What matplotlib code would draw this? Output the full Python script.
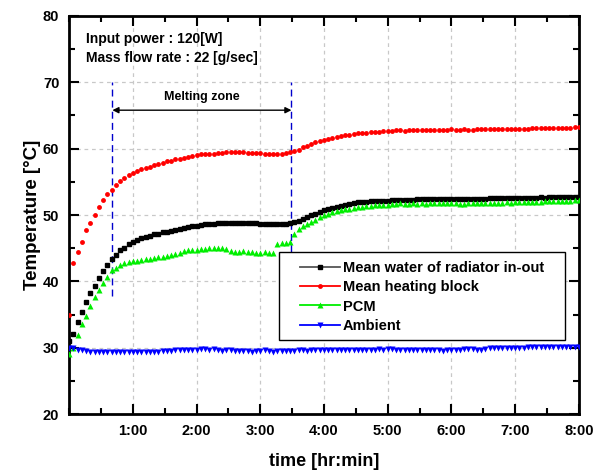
import numpy as np
import matplotlib
matplotlib.use("Agg")
import matplotlib.pyplot as plt
from matplotlib.lines import Line2D
from matplotlib.patches import Rectangle
from matplotlib.ticker import MultipleLocator, FixedLocator

plt.rcParams['font.family'] = ['Liberation Sans', 'DejaVu Sans']
plt.rcParams['font.weight'] = 'bold'

# sampling every 4 minutes, 0..8 h
time_min = np.arange(0, 481, 4)

heating_block = [
    35.0, 42.7, 44.4, 46.0, 47.7, 48.8, 50.0, 51.2, 52.2, 53.1,
    53.8, 54.5, 55.2, 55.6, 56.0, 56.3, 56.6, 56.9, 57.1, 57.3,
    57.5, 57.7, 57.9, 58.1, 58.2, 58.4, 58.5, 58.6, 58.7, 58.9,
    59.1, 59.15, 59.15, 59.2, 59.25, 59.35, 59.35, 59.45, 59.5, 59.5,
    59.45, 59.45, 59.4, 59.4, 59.4, 59.35, 59.25, 59.25, 59.25, 59.25,
    59.25, 59.35, 59.45, 59.7, 59.85, 60.2, 60.45, 60.7, 60.95, 61.1,
    61.3, 61.46, 61.56, 61.7, 61.9, 62.0, 62.1, 62.2, 62.3, 62.4,
    62.4, 62.47, 62.5, 62.56, 62.6, 62.66, 62.7, 62.77, 62.77, 62.66,
    62.87, 62.87, 62.8, 62.8, 62.87, 62.8, 62.87, 62.87, 62.87, 62.85,
    62.9, 62.85, 62.85, 62.9, 62.85, 62.85, 62.9, 62.95, 62.9, 62.9,
    62.9, 62.95, 62.95, 62.95, 63.0, 62.95, 63.0, 63.0, 63.0, 63.05,
    63.05, 63.1, 63.15, 63.15, 63.15, 63.15, 63.15, 63.15, 63.15, 63.2,
    63.2]

radiator_water = [
    31.0, 32.1, 33.8, 35.4, 36.9, 38.2, 39.3, 40.5, 41.6, 42.5,
    43.3, 43.9, 44.7, 45.1, 45.6, 45.9, 46.2, 46.5, 46.7, 46.9,
    47.1, 47.2, 47.4, 47.5, 47.65, 47.8, 47.95, 48.05, 48.2, 48.3,
    48.4, 48.5, 48.6, 48.65, 48.7, 48.75, 48.8, 48.8, 48.8, 48.8,
    48.8, 48.8, 48.8, 48.8, 48.75, 48.7, 48.7, 48.65, 48.6, 48.6,
    48.65, 48.7, 48.8, 48.9, 49.1, 49.4, 49.7, 49.95, 50.2, 50.45,
    50.7, 50.9, 51.06, 51.26, 51.4, 51.56, 51.7, 51.8, 51.9, 51.96,
    52.0, 52.06, 52.1, 52.16, 52.16, 52.16, 52.2, 52.26, 52.3, 52.3,
    52.3, 52.3, 52.37, 52.37, 52.37, 52.4, 52.37, 52.4, 52.4, 52.4,
    52.45, 52.4, 52.45, 52.4, 52.45, 52.45, 52.4, 52.45, 52.45, 52.5,
    52.5, 52.5, 52.5, 52.55, 52.5, 52.55, 52.55, 52.55, 52.6, 52.6,
    52.6, 52.65, 52.6, 52.65, 52.65, 52.65, 52.65, 52.65, 52.65, 52.65,
    52.65]

pcm = [
    29.0, 30.0, 31.9, 33.5, 34.8, 36.3, 37.6, 38.7, 39.7, 40.7,
    41.7, 42.05, 42.5, 42.7, 42.96, 43.0, 43.1, 43.2, 43.3, 43.4,
    43.5, 43.6, 43.7, 43.8, 43.9, 44.1, 44.3, 44.5, 44.7, 44.75,
    44.77, 44.88, 44.93, 44.98, 44.98, 45.08, 45.08, 44.88, 44.62, 44.47,
    44.47, 44.52, 44.47, 44.42, 44.22, 44.22, 44.42, 44.32, 44.22, 45.58,
    45.73, 45.83, 45.98, 47.14, 47.9, 48.3, 48.65, 49.0, 49.3, 49.7,
    49.95, 50.15, 50.4, 50.6, 50.75, 50.86, 50.95, 51.06, 51.16, 51.26,
    51.36, 51.36, 51.46, 51.5, 51.56, 51.56, 51.6, 51.66, 51.76, 51.7,
    51.7, 51.76, 51.66, 51.76, 51.7, 51.76, 51.76, 51.76, 51.8, 51.75,
    51.8, 51.75, 51.7, 51.7, 51.75, 51.8, 51.75, 51.8, 51.8, 51.85,
    51.85, 51.8, 51.85, 51.9, 51.85, 51.9, 51.95, 51.9, 51.95, 52.0,
    51.95, 52.0, 52.05, 52.1, 52.05, 52.1, 52.15, 52.1, 52.15, 52.2,
    52.2]

ambient = [
    30.0, 30.0, 29.7, 29.6, 29.5, 29.4, 29.3, 29.3, 29.3, 29.3,
    29.3, 29.3, 29.35, 29.35, 29.3, 29.3, 29.3, 29.3, 29.3, 29.3,
    29.35, 29.4, 29.5, 29.5, 29.55, 29.6, 29.6, 29.6, 29.65, 29.65,
    29.7, 29.75, 29.75, 29.7, 29.8, 29.6, 29.55, 29.6, 29.6, 29.55,
    29.5, 29.55, 29.5, 29.4, 29.5, 29.55, 29.6, 29.45, 29.4, 29.45,
    29.5, 29.45, 29.5, 29.55, 29.6, 29.6, 29.55, 29.6, 29.6, 29.65,
    29.6, 29.6, 29.65, 29.6, 29.6, 29.65, 29.65, 29.6, 29.65, 29.7,
    29.6, 29.65, 29.7, 29.75, 29.7, 29.85, 29.75, 29.7, 29.7, 29.65,
    29.65, 29.65, 29.6, 29.6, 29.6, 29.6, 29.65, 29.6, 29.55, 29.6,
    29.6, 29.65, 29.7, 29.8, 29.85, 29.75, 29.7, 29.65, 29.85, 29.9,
    29.95, 29.95, 30.0, 29.95, 30.0, 30.0, 29.95, 30.0, 30.05, 30.05,
    30.1, 30.05, 30.1, 30.05, 30.1, 30.1, 30.15, 30.1, 30.1, 30.05,
    30.05]

labels = ['Mean water of radiator in-out', 'Mean heating block', 'PCM', 'Ambient']
xtick_labels = ['1:00', '2:00', '3:00', '4:00', '5:00', '6:00', '7:00', '8:00']
melt_start, melt_end = 0.68, 3.49  # hours

hours = time_min / 60.0

fig = plt.figure(figsize=(6.06, 4.73), dpi=100)
ax = fig.add_axes([0.1139, 0.1247, 0.8415, 0.8415])

ax.plot(hours, radiator_water, ls='none', marker='s', ms=3.2, color='black', zorder=3)
ax.plot(hours, heating_block, ls='none', marker='o', ms=3.5, color='#ff0000', mec='none', zorder=3)
ax.plot(hours, pcm, ls='none', marker='^', ms=3.8, color='#00ee00', mec='none', zorder=3)
ax.plot(hours, ambient, ls='none', marker='v', ms=3.8, color='#0000ff', mec='none', zorder=3)

# melting zone markers
for xm in (melt_start, melt_end):
    ax.plot([xm, xm], [37.8, 70.0], color='#0000cc', lw=1.0, ls=(0, (5, 3)), zorder=2)
ax.annotate('', xy=(melt_start, 65.8), xytext=(melt_end, 65.8),
            arrowprops=dict(arrowstyle='<|-|>', color='black', lw=1.0,
                            mutation_scale=9, shrinkA=0, shrinkB=0))
ax.text((melt_start + melt_end) / 2, 67.8, 'Melting zone', ha='center', va='center',
        fontsize=9, fontweight='bold')

ax.text(0.27, 76.5, 'Input power : 120[W]', fontsize=10, fontweight='bold', va='center')
ax.text(0.27, 73.7, 'Mass flow rate : 22 [g/sec]', fontsize=10, fontweight='bold', va='center')

ax.set_xlim(0, 8)
ax.set_ylim(20, 80)
ax.xaxis.set_major_locator(FixedLocator(range(1, 9)))
ax.set_xticklabels(xtick_labels)
ax.xaxis.set_minor_locator(MultipleLocator(0.5))
ax.yaxis.set_major_locator(MultipleLocator(10))
ax.yaxis.set_minor_locator(MultipleLocator(5))

ax.tick_params(which='both', direction='in', top=True, right=True, width=1.5)
ax.tick_params(which='major', length=7, labelsize=10.5, pad=7)
ax.tick_params(which='minor', length=4)
for lab in ax.get_xticklabels() + ax.get_yticklabels():
    lab.set_fontweight('bold')
for sp in ax.spines.values():
    sp.set_linewidth(2.0)

ax.grid(True, which='major', color='#c8c8c8', ls=(0, (3, 3)), lw=0.9)
ax.set_axisbelow(True)

ax.set_xlabel('time [hr:min]', fontsize=13, fontweight='bold', labelpad=11)
ax.set_ylabel('Temperature [\u00b0C]', fontsize=13.5, fontweight='bold', labelpad=1)

# legend frame drawn separately (wider side padding than top/bottom)
ax.add_patch(Rectangle((0.412, 0.186), 0.561, 0.221, transform=ax.transAxes,
                       facecolor='white', edgecolor='black', lw=1.0, zorder=4))
handles = [
    Line2D([], [], color='#555555', marker='s', ms=3.5, mfc='black', mec='black', lw=1.3),
    Line2D([], [], color='#ff0000', marker='o', ms=3.5, mec='none', lw=1.3),
    Line2D([], [], color='#00ee00', marker='^', ms=4, mec='none', lw=1.3),
    Line2D([], [], color='#0000ff', marker='v', ms=4, mec='none', lw=1.3),
]
leg = ax.legend(handles, labels, loc='upper left', bbox_to_anchor=(0.453, 0.385),
                fontsize=10.5, frameon=False, handlelength=2.75, handletextpad=0.2,
                labelspacing=0.37, borderpad=0, borderaxespad=0)
leg.set_zorder(5)
for t in leg.get_texts():
    t.set_fontweight('bold')

fig.savefig('out.png', dpi=100)
